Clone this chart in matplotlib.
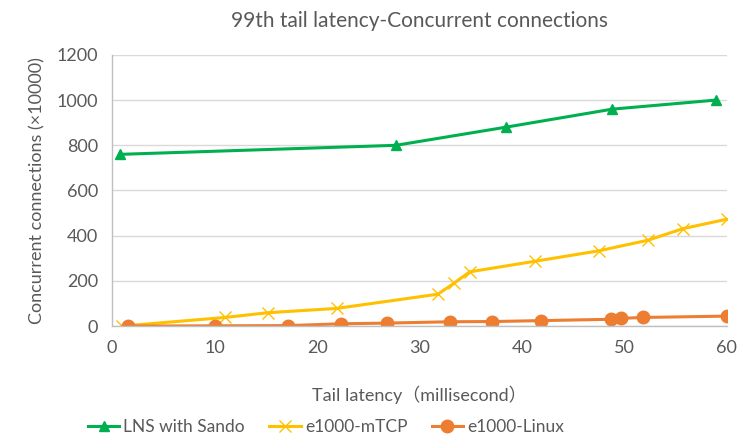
import matplotlib

matplotlib.use("Agg")
import matplotlib.pyplot as plt

plt.rcParams["font.family"] = ["Lato", "DejaVu Sans"]

# data
sando_x = [0.8, 27.7, 38.4, 48.8, 58.9]
sando_y = [760, 800, 880, 960, 1000]

mtcp_x = [1.0, 11.0, 15.2, 21.9, 31.8, 33.4, 34.9, 41.3, 47.5, 52.3, 55.7, 60.0]
mtcp_y = [0, 38, 59, 78, 141, 191, 240, 287, 333, 380, 431, 473]

linux_x = [1.5, 10.0, 17.2, 22.3, 26.8, 33.0, 37.1, 41.9, 48.7, 49.7, 51.8, 60.0]
linux_y = [0, 1, 2, 10, 13, 19, 20, 24, 30, 34, 38, 44]

TEXT = "#595959"

fig = plt.figure(figsize=(7.38, 4.43), dpi=100)
ax = fig.add_axes([0.152, 0.264, 0.833, 0.612])

ax.plot(sando_x, sando_y, color="#00b050", linewidth=2.2, marker="^",
        markersize=7, label="LNS with Sando")
ax.plot(mtcp_x, mtcp_y, color="#ffc000", linewidth=2.2, marker="x",
        markersize=9, markeredgewidth=1.0, label="e1000-mTCP")
ax.plot(linux_x, linux_y, color="#ed7d31", linewidth=2.2, marker="o",
        markersize=9, label="e1000-Linux")

ax.set_xlim(0, 60)
ax.set_ylim(0, 1200)
ax.set_xticks(range(0, 61, 10))
ax.set_yticks(range(0, 1201, 200))
ax.grid(axis="y", color="#d9d9d9", linewidth=1.0)
ax.set_axisbelow(True)
for side in ("top", "right"):
    ax.spines[side].set_visible(False)
for side in ("left", "bottom"):
    ax.spines[side].set_color("#bfbfbf")
    ax.spines[side].set_linewidth(1.0)
ax.tick_params(length=0, labelsize=13, labelcolor=TEXT, pad=10)

ax.set_title("99th tail latency-Concurrent connections", fontsize=15,
             color=TEXT, pad=20)
ax.set_xlabel("Tail latency\uff08millisecond\uff09", fontsize=13, color=TEXT,
              labelpad=21, family=["Lato", "Noto Sans CJK SC"])
ax.set_ylabel("Concurrent connections (\u00d710000)", fontsize=13,
              color=TEXT, labelpad=8)

fig.legend(loc="lower left", bbox_to_anchor=(0.105, -0.005), ncol=3,
           frameon=False, fontsize=12.5, labelcolor=TEXT, handlelength=1.8,
           columnspacing=1.4, handletextpad=0.25, borderaxespad=0.2)

fig.savefig("out.png", dpi=100)
